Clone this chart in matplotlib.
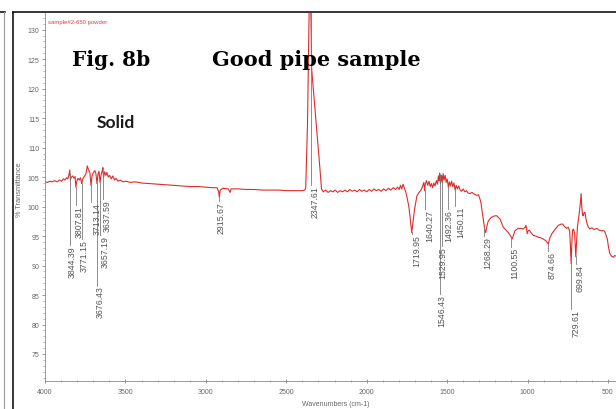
import numpy as np
import matplotlib.pyplot as plt
from matplotlib.lines import Line2D

# FTIR trace: wavenumber (cm-1) and % transmittance
wavenumber = [
    4000, 3985, 3970, 3955, 3940, 3925, 3910, 3898, 3886, 3876, 3866, 3858,
    3851, 3846, 3842, 3836, 3828, 3820, 3813, 3808, 3802, 3795, 3787, 3779,
    3772, 3765, 3756, 3746, 3737, 3729, 3721, 3714, 3707, 3699, 3690, 3683,
    3677, 3670, 3664, 3658, 3651, 3644, 3640, 3636, 3629, 3622, 3615, 3607,
    3598, 3588, 3578, 3568, 3558, 3546, 3532, 3515, 3495, 3470, 3440, 3400,
    3350, 3300, 3250, 3200, 3150, 3100, 3050, 3000, 2960, 2930, 2921, 2916,
    2911, 2895, 2860, 2849, 2843, 2800, 2750, 2700, 2650, 2600, 2550, 2500,
    2450, 2400, 2385, 2379, 2368, 2357, 2352, 2348, 2342, 2330, 2315, 2300,
    2290, 2281, 2270, 2255, 2240, 2225, 2210, 2195, 2180, 2165, 2150, 2135,
    2120, 2105, 2090, 2075, 2060, 2045, 2030, 2015, 2000, 1985, 1970, 1955,
    1940, 1925, 1910, 1895, 1880, 1865, 1850, 1835, 1820, 1808, 1798, 1790,
    1782, 1774, 1766, 1758, 1748, 1738, 1730, 1720, 1712, 1702, 1688, 1675,
    1662, 1652, 1645, 1640, 1635, 1628, 1620, 1612, 1605, 1597, 1590, 1582,
    1575, 1567, 1560, 1554, 1550, 1546, 1541, 1535, 1530, 1525, 1519, 1512,
    1506, 1500, 1492, 1486, 1479, 1472, 1465, 1458, 1450, 1444, 1436, 1428,
    1419, 1410, 1400, 1390, 1380, 1370, 1358, 1345, 1330, 1316, 1305, 1297,
    1290, 1282, 1275, 1265, 1260, 1253, 1246, 1235, 1223, 1208, 1192, 1171,
    1151, 1120, 1105, 1095, 1086, 1078, 1058, 1040, 1027, 1015, 1010, 1006,
    1002, 996, 989, 976, 964, 948, 933, 918, 902, 886, 871, 862,
    850, 830, 809, 795, 782, 770, 757, 747, 738, 733, 729, 725,
    720, 714, 707, 703, 700, 695, 690, 680, 672, 667, 663, 658,
    654, 648, 643, 637, 632, 622, 612, 600, 585, 570, 555, 539,
    525, 519, 510, 504, 496, 488, 478, 467, 458, 450,
]
transmittance = [
    104.2, 104.1, 104.3, 104.2, 104.4, 104.2, 104.5, 104.3, 104.7, 104.5, 104.9, 104.7,
    105.4, 106.2, 104.5, 105.0, 105.2, 104.8, 105.1, 103.3, 104.3, 104.8, 104.5, 104.9,
    103.9, 104.7, 105.1, 105.5, 106.9, 106.2, 105.8, 103.6, 105.3, 105.8, 106.1, 105.5,
    103.9, 105.6, 106.0, 104.1, 105.4, 106.1, 106.6, 105.0, 105.9, 105.3, 105.8, 105.0,
    105.3, 104.7, 105.2, 104.5, 104.8, 104.3, 104.5, 104.2, 104.3, 104.1, 104.2, 104.0,
    103.9, 103.8, 103.7, 103.6, 103.5, 103.4, 103.4, 103.3, 103.2, 103.2, 102.6, 101.6,
    102.8, 103.1, 103.0, 102.4, 103.0, 103.0, 102.9, 102.9, 102.8, 102.8, 102.8, 102.7,
    102.7, 102.7, 102.8, 103.2, 114.0, 135.0, 140.0, 135.0, 123.3, 119.4, 114.4, 109.5,
    106.2, 103.0, 102.5, 102.8, 102.4, 102.7, 102.5, 102.8, 102.4, 102.7, 102.5, 102.8,
    102.5, 102.9, 102.6, 102.8, 102.5, 102.9, 102.6, 102.8, 102.5, 102.9, 102.6, 103.0,
    102.7, 102.9, 102.6, 103.0, 102.7, 103.1, 102.8, 103.2, 102.9, 103.3, 102.9, 103.6,
    103.0, 103.8, 103.1, 102.6, 101.4, 100.0, 98.2, 95.6, 97.4, 99.6, 101.8, 102.4,
    102.8, 103.5, 104.1, 102.7, 103.9, 104.4, 103.6, 104.3, 103.4, 103.9, 103.2, 104.0,
    103.5, 104.4, 103.8, 105.2, 104.4, 105.7, 103.9, 105.3, 104.1, 105.6, 104.5, 105.3,
    104.1, 104.7, 103.3, 104.2, 103.5, 104.3, 103.4, 104.0, 102.8, 103.6, 103.0, 103.5,
    102.8, 102.6, 103.0, 102.5, 102.7, 102.3, 102.2, 102.4, 102.1, 101.9, 102.0, 101.4,
    100.7, 99.2, 97.9, 95.9, 95.6, 96.6, 97.4, 97.9, 98.2, 98.4, 98.45, 97.9,
    96.5, 95.6, 95.0, 94.5, 95.3, 95.9, 96.3, 96.3, 96.2, 96.5, 96.8, 96.3,
    95.4, 95.9, 96.0, 95.5, 95.1, 95.0, 94.8, 94.7, 94.5, 94.2, 93.65, 94.6,
    95.35, 96.1, 96.8, 97.0, 97.05, 96.6, 96.3, 96.5, 95.8, 93.0, 90.3, 93.5,
    96.0, 96.2, 95.4, 93.0, 91.5, 94.0, 96.5, 98.5, 100.5, 102.2, 100.0, 98.6,
    98.45, 99.0, 99.0, 98.0, 97.3, 96.5, 96.2, 96.4, 96.1, 96.3, 96.0, 95.9,
    95.9, 95.7, 95.0, 94.5, 93.0, 92.0, 91.6, 91.4, 91.7, 91.6,
]

# picked peaks and the level (% T) where each label starts
peak_wn = [3844.39, 3807.81, 3771.15, 3713.14, 3676.43, 3657.19, 3637.59,
           2915.67, 2347.61, 1719.95, 1640.27, 1546.43, 1529.95, 1492.36,
           1450.11, 1268.29, 1100.55, 874.66, 729.61, 699.84]
label_top = [93.4, 100.2, 94.5, 100.8, 86.6, 95.1, 101.3,
             101.0, 103.6, 95.3, 99.6, 85.2, 93.3, 99.6,
             100.1, 95.0, 93.2, 92.5, 82.6, 90.3]
# sideways nudge of each label off its drop line, in pixels
label_nudge = [1.7, 3.0, 2.2, 5.6, 3.0, 4.8, 3.7,
               1.6, 4.2, 5.0, 5.4, 2.3, 0.4, 0.0,
               5.5, 3.6, 3.6, 4.3, 4.6, 3.8]

x_ticks = [4000, 3500, 3000, 2500, 2000, 1500, 1000, 500]
y_ticks = [75, 80, 85, 90, 95, 100, 105, 110, 115, 120, 125, 130]

W, H = 616, 410
fig = plt.figure(figsize=(W / 100, H / 100), dpi=100)
fig.patch.set_facecolor("white")

# outer frame of the screenshot and the edge of the neighbouring panel
fig.add_artist(Line2D([12.5 / W, 1], [1 - 13 / H, 1 - 13 / H], color="black", lw=1.1))
fig.add_artist(Line2D([12.5 / W, 12.5 / W], [0, 1 - 13 / H], color="black", lw=1.1))
fig.add_artist(Line2D([0, 5 / W], [1 - 13 / H, 1 - 13 / H], color="black", lw=1.1))
fig.add_artist(Line2D([3.5 / W, 3.5 / W], [0, 1 - 13 / H], color="#999999", lw=0.8))

ax = fig.add_axes([45 / W, (H - 382) / H, (W - 45) / W, (382 - 14) / H])
ax.plot(wavenumber, transmittance, color="#e02b2b", lw=0.8)

ax.set_xlim(4000, 450)
ax.set_ylim(70.42, 132.83)
ax.set_xticks(x_ticks)
ax.set_xticks(np.arange(4000, 450, -100), minor=True)
ax.set_yticks(y_ticks)
ax.set_yticks(np.arange(71, 133, 1), minor=True)

for s in ["top", "right"]:
    ax.spines[s].set_visible(False)
for s in ["left", "bottom"]:
    ax.spines[s].set_color("#8a8a8a")
    ax.spines[s].set_linewidth(0.6)
ax.tick_params(axis="both", which="major", length=2.5, width=0.6, color="#888888",
               labelsize=5, labelcolor="#666666")
ax.tick_params(axis="both", which="minor", length=1.3, width=0.5, color="#999999")
ax.tick_params(axis="x", which="both", direction="inout", pad=4)
ax.tick_params(axis="y", which="both", direction="out", pad=1.5)
for lab in ax.get_xticklabels() + ax.get_yticklabels():
    lab.set_family("Liberation Sans")

ax.set_ylabel("% Transmittance", fontsize=5.3, color="#666666", family="Liberation Sans")
ax.yaxis.set_label_coords(-(45 - 23) / (W - 45), (382 - 190) / (382 - 14))
ax.set_xlabel("Wavenumbers (cm-1)", fontsize=5, color="#666666", family="Liberation Sans")
ax.xaxis.set_label_coords((336 - 45) / (W - 45), -(401 - 382) / (382 - 14))

# peak markers: thin grey drop line with the rotated wavenumber under it
wn_up = np.array(wavenumber[::-1], dtype=float)
t_up = np.array(transmittance[::-1], dtype=float)
px_per_wn = (W - 45) / 3550.0
for w, top, nudge in zip(peak_wn, label_top, label_nudge):
    y0 = np.interp(w, wn_up, t_up)
    ax.plot([w, w], [y0, top], color="#7a7a7a", lw=0.6)
    ax.text(w - nudge / px_per_wn, top, f"{w:.2f}", rotation=90, ha="center", va="top",
            fontsize=6.3, color="#555555", family="Liberation Sans")

ax.text(0.005, 0.978, "sample#2-650 powder", transform=ax.transAxes, fontsize=4.3,
        color="#e04040", family="Liberation Sans", ha="left", va="center")

fig.text(72 / W, 1 - 60 / H, "Fig. 8b", fontsize=14.5, fontweight="bold",
         family="DejaVu Serif", ha="left", va="center")
fig.text(212 / W, 1 - 60 / H, "Good pipe sample", fontsize=15, fontweight="bold",
         family="DejaVu Serif", ha="left", va="center")
fig.text(97 / W, 1 - 123 / H, "Solid", fontsize=12.5, fontweight="bold",
         family="Lato", ha="left", va="center", color="#1a1a1a")

fig.savefig("out.png", dpi=100)
